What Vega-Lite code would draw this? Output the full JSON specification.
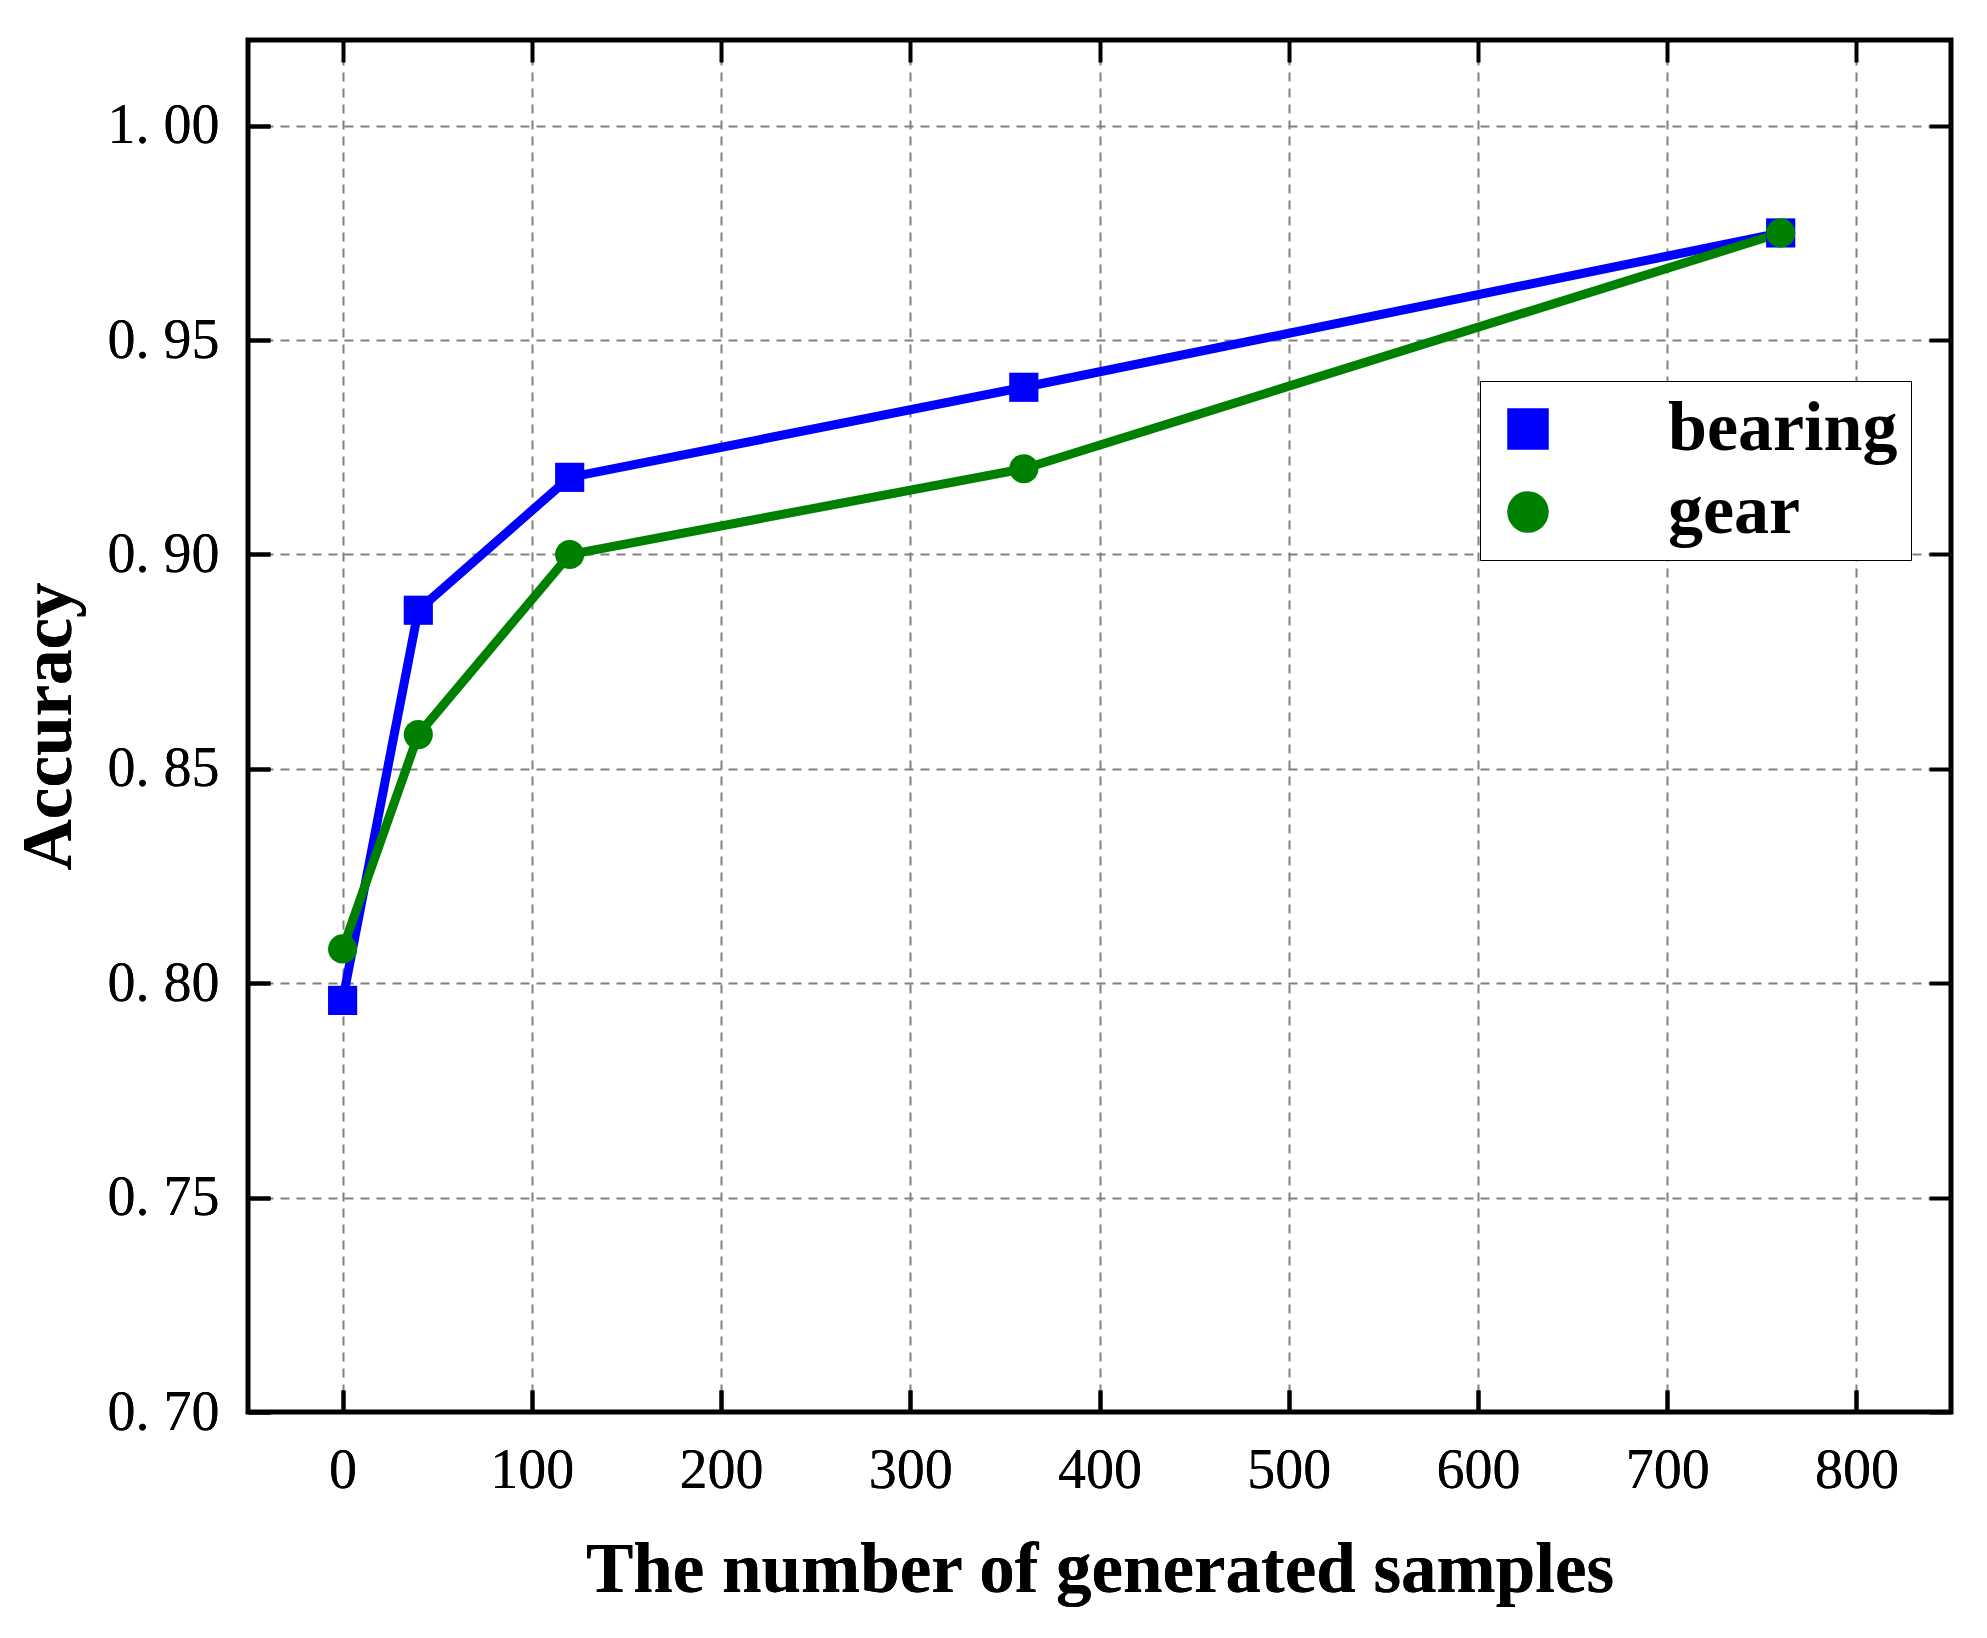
{
  "$schema": "https://vega.github.io/schema/vega-lite/v6.json",
  "autosize": {"type": "none"},
  "width": 1703,
  "height": 1372,
  "padding": {"left": 248, "top": 40, "right": 36, "bottom": 226},
  "background": "white",
  "config": {
    "view": {"stroke": "black", "strokeWidth": 5},
    "axis": {
      "domain": false,
      "tickColor": "black",
      "tickWidth": 4,
      "tickSize": -22,
      "gridColor": "#808080",
      "gridDash": [9, 7],
      "gridWidth": 2,
      "labelFont": "Liberation Serif",
      "labelFontSize": 56,
      "labelColor": "black",
      "titleFont": "Liberation Serif",
      "titleFontSize": 71,
      "titleFontWeight": "bold",
      "titleColor": "black"
    }
  },
  "data": {
    "values": [
      {"n": 0, "acc": 0.796, "series": "bearing"},
      {"n": 40, "acc": 0.887, "series": "bearing"},
      {"n": 120, "acc": 0.918, "series": "bearing"},
      {"n": 360, "acc": 0.939, "series": "bearing"},
      {"n": 760, "acc": 0.975, "series": "bearing"},
      {"n": 0, "acc": 0.808, "series": "gear"},
      {"n": 40, "acc": 0.858, "series": "gear"},
      {"n": 120, "acc": 0.900, "series": "gear"},
      {"n": 360, "acc": 0.920, "series": "gear"},
      {"n": 760, "acc": 0.975, "series": "gear"}
    ]
  },
  "encoding": {
    "x": {
      "field": "n", "type": "quantitative",
      "scale": {"domain": [-50, 850], "nice": false, "zero": false},
      "axis": {
        "orient": "bottom",
        "values": [0, 100, 200, 300, 400, 500, 600, 700, 800],
        "labelPadding": 53,
        "title": "The number of generated samples",
        "titlePadding": 37
      }
    },
    "y": {
      "field": "acc", "type": "quantitative",
      "scale": {"domain": [0.70, 1.02], "nice": false, "zero": false},
      "axis": {
        "orient": "left",
        "values": [0.70, 0.75, 0.80, 0.85, 0.90, 0.95, 1.00],
        "labelExpr": "replace(format(datum.value, '.2f'), '.', '. ')",
        "labelPadding": 51,
        "gridOpacity": {"condition": {"test": "datum.value < 0.71", "value": 0}, "value": 1},
        "title": "Accuracy",
        "titlePadding": 22
      }
    },
    "color": {
      "field": "series", "type": "nominal",
      "scale": {"domain": ["bearing", "gear"], "range": ["#0000ff", "#008000"]},
      "legend": {
        "orient": "none",
        "legendX": 1232,
        "legendY": 341,
        "title": null,
        "padding": 13,
        "rowPadding": 13,
        "strokeColor": "black",
        "fillColor": "white",
        "symbolSize": 1600,
        "labelOffset": 105,
        "labelLimit": 500,
        "labelFont": "Liberation Serif",
        "labelFontWeight": "bold",
        "labelFontSize": 70,
        "labelColor": "black"
      }
    }
  },
  "layer": [
    {
      "mark": {"type": "line", "strokeWidth": 9}
    },
    {
      "mark": {"type": "point", "filled": true, "opacity": 1, "size": 850},
      "encoding": {
        "shape": {
          "field": "series", "type": "nominal",
          "scale": {"domain": ["bearing", "gear"], "range": ["square", "circle"]}
        }
      }
    },
    {
      "mark": {"type": "point", "opacity": 0},
      "encoding": {
        "x": {
          "field": "n", "type": "quantitative",
          "axis": {"orient": "top", "values": [0, 100, 200, 300, 400, 500, 600, 700, 800], "labels": false, "grid": false, "title": null}
        },
        "y": {
          "field": "acc", "type": "quantitative",
          "axis": {"orient": "right", "values": [0.70, 0.75, 0.80, 0.85, 0.90, 0.95, 1.00], "labels": false, "grid": false, "title": null}
        }
      }
    }
  ],
  "resolve": {"axis": {"x": "independent", "y": "independent"}}
}
